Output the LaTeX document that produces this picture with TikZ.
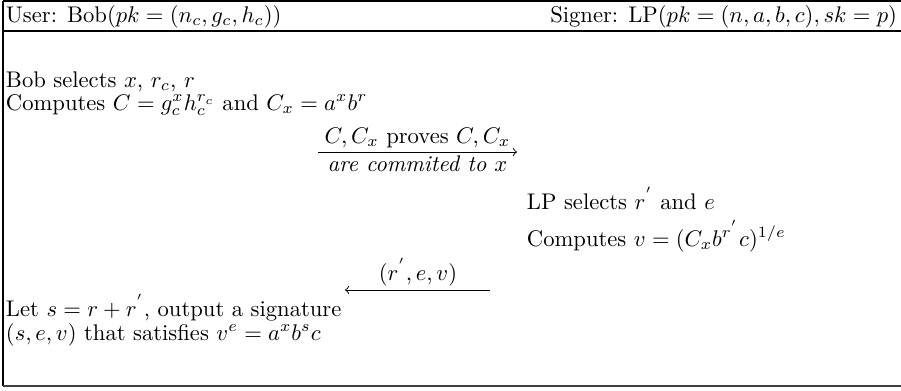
\documentclass[tikz,border=0pt]{standalone}
\usepackage{amsmath}
\begin{document}
\begin{tikzpicture}[x=0.442pt,y=-0.442pt,
  txt/.style={anchor=base west,inner sep=0pt,outer sep=0pt},
  rtxt/.style={anchor=base east,inner sep=0pt,outer sep=0pt},
  ctxt/.style={anchor=base,inner sep=0pt,outer sep=0pt},
  rule/.style={line width=0.5pt},
  msg/.style={->,line width=0.4pt}]
\useasboundingbox (0,0) rectangle (901,390);
% frame
\draw[rule] (3,1) -- (901,1);
\draw[rule] (3,31) -- (901,31);
\draw[rule] (3,1) -- (3,386);
\draw[line width=0.8pt,black!75] (3,386) -- (901,386);
% header
\node[txt] (user) at (6,22) {User: Bob$(pk=(n_c,g_c,h_c))$};
\node[rtxt] (signer) at (897,22) {Signer: LP$(pk=(n,a,b,c),sk=p)$};
% user
\node[txt] (u1) at (6,87) {Bob selects $x$, $r_c$, $r$};
\node[txt] (u2) at (6,110) {Computes $C=g_c^x h_c^{r_c}$ and $C_x=a^x b^r$};
% message 1
\coordinate (m1s) at (318,152);
\coordinate (m1e) at (517,152);
\draw[msg] (m1s) -- (m1e);
\node[ctxt] (m1a) at (417.5,143) {$C,C_x$ proves $C,C_x$};
\node[ctxt] (m1b) at (417.5,171) {\textit{are commited to $x$}};
% signer
\node[txt] (s1) at (527,209) {LP selects $r^{'}$ and $e$};
\node[txt] (s2) at (527,246) {Computes $v=(C_x b^{r^{'}} c)^{1/e}$};
% message 2
\coordinate (m2s) at (490,290);
\coordinate (m2e) at (345,290);
\draw[msg] (m2s) -- (m2e);
\node[ctxt] (m2a) at (418,280) {$(r^{'},e,v)$};
% result
\node[txt] (r1) at (6,316) {Let $s=r+r^{'}$, output a signature};
\node[txt] (r2) at (6,340) {$(s,e,v)$ that satisfies $v^e=a^x b^s c$};
\end{tikzpicture}
\end{document}
